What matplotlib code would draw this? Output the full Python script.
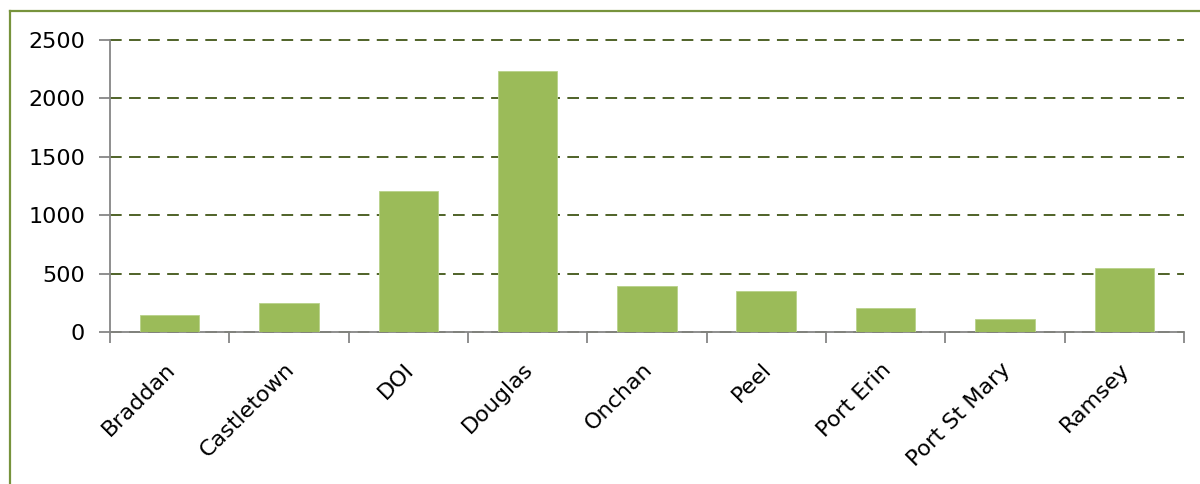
import matplotlib
matplotlib.use("Agg")
import matplotlib.pyplot as plt
from matplotlib.lines import Line2D

CATEGORIES = ["Braddan", "Castletown", "DOI", "Douglas", "Onchan", "Peel",
              "Port Erin", "Port St Mary", "Ramsey"]
VALUES = [145, 250, 1210, 2235, 395, 350, 205, 112, 550]
Y_TICKS = [0, 500, 1000, 1500, 2000, 2500]

BAR_COLOR = "#9BBB59"
GRID_COLOR = "#4F6228"
AXIS_COLOR = "#868686"
BORDER_COLOR = "#77933C"

plt.rcParams["font.family"] = ["DejaVu Sans"]

fig = plt.figure(figsize=(12, 4.84), dpi=100)
ax = fig.add_axes([110 / 1200, 1 - 332.3 / 484, 1074 / 1200, 292.3 / 484])

x = range(len(CATEGORIES))
ax.bar(x, VALUES, width=0.5, color=BAR_COLOR, edgecolor="#B8D28A", linewidth=0.6, zorder=3)

ax.set_xlim(-0.5, len(CATEGORIES) - 0.5)
ax.set_ylim(0, 2500)
ax.set_yticks(Y_TICKS)
ax.set_yticklabels([str(v) for v in Y_TICKS], fontsize=16)
ax.yaxis.grid(True, color=GRID_COLOR, linestyle=(0, (6, 3.8)), linewidth=1.4, zorder=0)
ax.set_axisbelow(True)
for gl in ax.get_ygridlines():
    gl.set_clip_on(False)  # keep the 2500 line full width

# category boundary ticks on x, labels placed by hand (Excel-style 45 deg)
ax.set_xticks([i - 0.5 for i in range(len(CATEGORIES) + 1)])
ax.set_xticklabels([])
ax.tick_params(axis="x", length=8, width=1.3, color=AXIS_COLOR, direction="out")
ax.tick_params(axis="y", length=8, width=1.3, color=AXIS_COLOR, direction="out", pad=10)
for i, name in enumerate(CATEGORIES):
    ax.annotate(name, xy=(i, 0), xytext=(-5, -27), textcoords="offset pixels",
                rotation=45, rotation_mode="anchor", ha="right", va="top",
                fontsize=16, annotation_clip=False)

for side in ("top", "right"):
    ax.spines[side].set_visible(False)
for side in ("left", "bottom"):
    ax.spines[side].set_color(AXIS_COLOR)
    ax.spines[side].set_linewidth(1.3)

# outer chart border (cropped at right/bottom)
fig.add_artist(Line2D([9.5 / 1200, 9.5 / 1200], [0, 1 - 10.5 / 484],
                      transform=fig.transFigure, color=BORDER_COLOR, lw=1.6))
fig.add_artist(Line2D([9.5 / 1200, 1], [1 - 10.5 / 484, 1 - 10.5 / 484],
                      transform=fig.transFigure, color=BORDER_COLOR, lw=1.6))

fig.savefig("out.png", dpi=100)
